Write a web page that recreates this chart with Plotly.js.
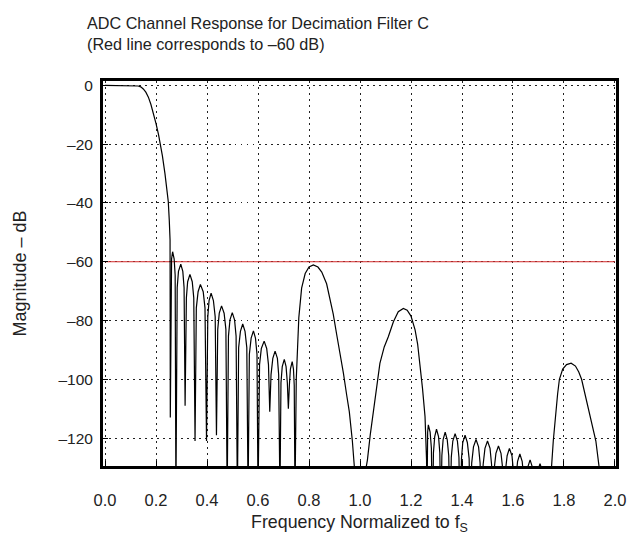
<!DOCTYPE html>
<html>
<head>
<meta charset="utf-8">
<script src="https://cdn.plot.ly/plotly-3.0.1.min.js"></script>
<style>html,body{margin:0;padding:0;background:#fff;}#chart{width:632px;height:535px;}</style>
</head>
<body>
<div id="chart"></div>
<script>
// Normalized frequency (f / fS)
const freq = [
  0.000, 0.118, 0.130, 0.140, 0.150, 0.160, 0.170, 0.180, 0.190, 0.200, 0.210, 0.218, 0.225, 0.235, 0.242, 0.248, 0.252, 0.255, 0.256,
  0.258, 0.261, 0.265, 0.271, 0.275, 0.278,
  0.283, 0.288, 0.297, 0.305, 0.310, 0.314,
  0.319, 0.324, 0.333, 0.342, 0.348, 0.353,
  0.358, 0.365, 0.374, 0.385, 0.392, 0.398,
  0.403, 0.408, 0.416, 0.425, 0.432, 0.437,
  0.442, 0.448, 0.457, 0.467, 0.474, 0.479,
  0.484, 0.490, 0.499, 0.508, 0.514, 0.519,
  0.524, 0.531, 0.540, 0.549, 0.556, 0.561,
  0.566, 0.573, 0.582, 0.590, 0.596, 0.600,
  0.606, 0.613, 0.624, 0.634, 0.641, 0.646,
  0.651, 0.658, 0.667, 0.676, 0.681, 0.686,
  0.690, 0.695, 0.703, 0.710, 0.715, 0.719,
  0.723, 0.727, 0.734, 0.739, 0.742, 0.745,
  0.750, 0.755, 0.760, 0.771, 0.785, 0.800, 0.817, 0.835, 0.850, 0.869, 0.882, 0.895, 0.908, 0.922, 0.935, 0.948, 0.958, 0.970, 0.978, 0.990,
  1.010, 1.024, 1.029, 1.040, 1.052, 1.065, 1.078, 1.095, 1.111, 1.131, 1.150, 1.170, 1.185, 1.200, 1.216, 1.226, 1.235, 1.245, 1.255, 1.261, 1.262,
  1.2635, 1.2653, 1.268, 1.275, 1.280, 1.284,
  1.288, 1.293, 1.300, 1.308, 1.313, 1.317,
  1.321, 1.326, 1.334, 1.342, 1.348, 1.353,
  1.358, 1.364, 1.373, 1.382, 1.388, 1.393,
  1.398, 1.403, 1.412, 1.421, 1.428, 1.433,
  1.438, 1.445, 1.455, 1.465, 1.471, 1.477,
  1.483, 1.490, 1.500, 1.510, 1.516, 1.521,
  1.526, 1.533, 1.543, 1.553, 1.560, 1.565,
  1.570, 1.577, 1.586, 1.596, 1.602, 1.607,
  1.612, 1.618, 1.627, 1.636, 1.642, 1.647,
  1.652, 1.658, 1.667, 1.676, 1.682, 1.687,
  1.692, 1.697, 1.706, 1.715, 1.720, 1.725,
  1.745, 1.751, 1.758, 1.765, 1.775, 1.782, 1.795, 1.810, 1.828, 1.845, 1.858, 1.869, 1.880, 1.895, 1.908, 1.925, 1.938, 1.950, 2.000
];
// Magnitude in dB
const magnitudeDb = [
  0, 0, -0.2, -0.5, -1.2, -2.3, -4, -6.5, -9.5, -13, -16.8, -20, -24, -30, -34.5, -39.5, -46, -52.6, -113,
  -64.6, -59, -56.6, -59, -64.6, -140,
  -68.8, -63.3, -60.8, -63.3, -68.8, -109,
  -72.3, -66.8, -64.3, -66.8, -72.3, -121,
  -75.7, -70.2, -67.7, -70.2, -75.7, -121,
  -78.7, -73.2, -70.7, -73.2, -78.7, -119,
  -83, -77.5, -75, -77.5, -83, -140,
  -85.3, -79.8, -77.3, -79.8, -85.3, -140,
  -89.2, -83.7, -81.2, -83.7, -89.2, -140,
  -91.5, -86, -83.5, -86, -91.5, -140,
  -95, -89.5, -87, -89.5, -95, -111,
  -98.4, -92.9, -90.4, -92.9, -98.4, -140,
  -101.2, -95.7, -93.2, -95.7, -101.2, -110,
  -102, -96.5, -94, -96.5, -102, -140,
  -100, -88, -79, -69, -64, -61.8, -61.1, -61.8, -63.5, -67.5, -72.5, -77.8, -84.5, -91, -98, -105.5, -111, -121, -130, -150,
  -150, -130, -127.5, -119, -111.6, -102.5, -94.6, -89, -85.5, -80.4, -77, -75.9, -76.5, -78.5, -83.2, -88, -94.6, -103, -112.7, -127.5, -150,
  -123.5, -118, -115.5, -118, -123.5, -150,
  -125, -119.5, -117, -119.5, -125, -150,
  -126, -120.5, -118, -120.5, -126, -150,
  -126.5, -121, -118.5, -121, -126.5, -150,
  -127, -121.5, -119, -121.5, -127, -150,
  -128.5, -123, -120.5, -123, -128.5, -150,
  -129, -123.5, -121, -123.5, -129, -150,
  -130.7, -125.2, -122.7, -125.2, -130.7, -150,
  -131.5, -126, -123.5, -126, -131.5, -150,
  -133.4, -127.9, -125.4, -127.9, -133.4, -150,
  -135.4, -129.9, -127.4, -129.9, -135.4, -150,
  -136.7, -131.2, -128.7, -131.2, -136.7, -150,
  -150, -130, -121, -113.8, -105, -100, -96.5, -95, -94.5, -95.5, -97.5, -100, -104, -109, -113.8, -121, -130, -150, -150
];
// Red reference level
const refFreq = [0, 2];
const refLevelDb = [-60, -60];
// Tick labels
const xTickVals = [0, 0.2, 0.4, 0.6, 0.8, 1.0, 1.2, 1.4, 1.6, 1.8, 2.0];
const xTickText = ["0.0", "0.2", "0.4", "0.6", "0.8", "1.0", "1.2", "1.4", "1.6", "1.8", "2.0"];
const yTickVals = [0, -20, -40, -60, -80, -100, -120];
const yTickText = ["0", "\u201320", "\u201340", "\u201360", "\u201380", "\u2013100", "\u2013120"];

const FONT = "Liberation Sans, Arial, Helvetica, sans-serif";
const traces = [
  {x: refFreq, y: refLevelDb, mode: "lines", line: {color: "#d22a2a", width: 1}, hoverinfo: "skip"},
  {x: freq, y: magnitudeDb, mode: "lines", line: {color: "#000", width: 1.2}}
];
const axisCommon = {
  showline: true, mirror: true, linecolor: "#000", linewidth: 3,
  showgrid: true, gridcolor: "#222", griddash: "1.5px,4.5px", gridwidth: 1,
  ticks: "inside", ticklen: 5, tickcolor: "#000", tickwidth: 1,
  zeroline: false
};
const layout = {
  width: 632, height: 535,
  paper_bgcolor: "#fff", plot_bgcolor: "#fff",
  showlegend: false,
  margin: {l: 103, r: 16, t: 81, b: 69},
  font: {family: FONT, color: "#222"},
  title: {
    text: "ADC Channel Response for Decimation Filter C<br>(Red line corresponds to \u201360 dB)",
    x: 87 / 632, xref: "container", xanchor: "left",
    y: 0.945, yref: "container", yanchor: "top",
    font: {family: FONT, size: 16.2, color: "#222"}
  },
  xaxis: Object.assign({}, axisCommon, {
    range: [-0.008, 2.004], tickvals: xTickVals, ticktext: xTickText,
    ticklabelstandoff: 17,
    tickfont: {family: FONT, size: 16.5, color: "#222"},
    title: {text: "Frequency Normalized to f<sub>S</sub>", standoff: 18, font: {family: FONT, size: 17.8, color: "#222"}}
  }),
  yaxis: Object.assign({}, axisCommon, {
    range: [-129.5, 1.5], tickvals: yTickVals, ticktext: yTickText,
    ticklabelstandoff: 4,
    tickfont: {family: FONT, size: 15.5, color: "#222"},
    title: {text: "Magnitude \u2013 dB", standoff: 28, font: {family: FONT, size: 18, color: "#222"}}
  })
};
Plotly.newPlot("chart", traces, layout, {displayModeBar: false, staticPlot: true});
</script>
</body>
</html>
